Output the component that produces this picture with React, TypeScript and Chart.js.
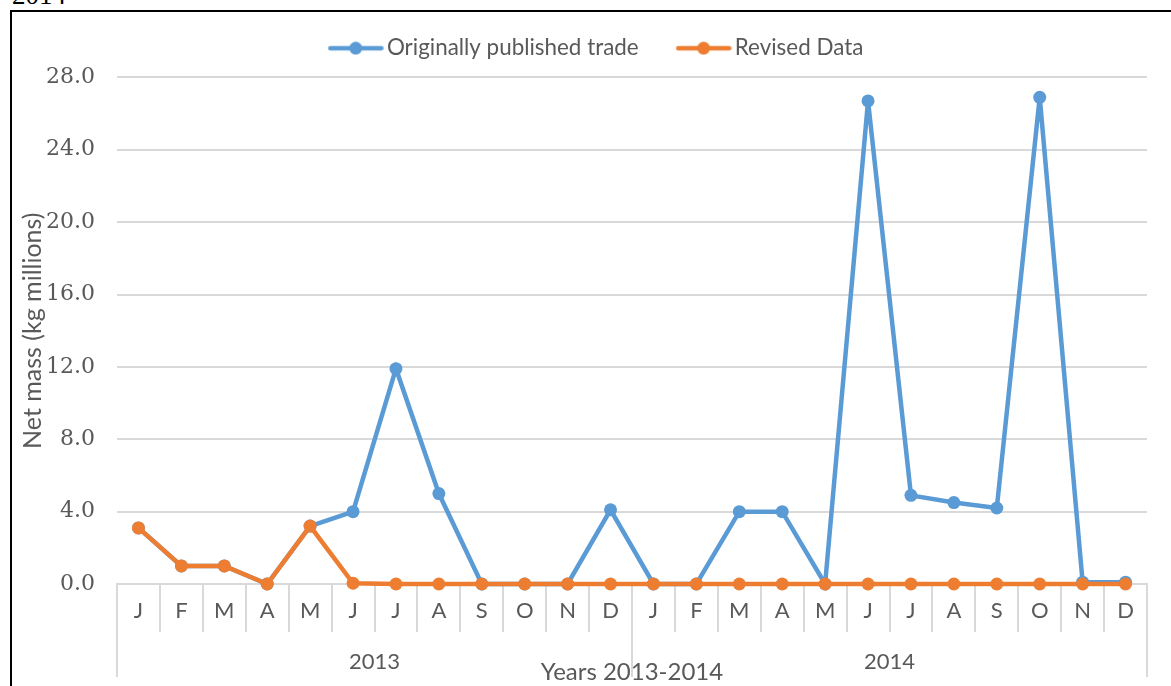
import React, { useEffect, useRef } from 'react';
import { Chart, registerables } from 'chart.js';

Chart.register(...registerables);

const MONTHS = ['J', 'F', 'M', 'A', 'M', 'J', 'J', 'A', 'S', 'O', 'N', 'D'];
const CATEGORIES = [...MONTHS, ...MONTHS];
const YEAR_LABELS = ['2013', '2014'];
const SERIES_NAMES = ['Originally published trade', 'Revised Data'];
const ORIGINAL = [3.1, 1.0, 1.0, 0.0, 3.2, 4.0, 11.9, 5.0, 0.0, 0.0, 0.0, 4.1, 0.0, 0.0, 4.0, 4.0, 0.0, 26.7, 4.9, 4.5, 4.2, 26.9, 0.1, 0.1];
const REVISED = [3.1, 1.0, 1.0, 0.0, 3.2, 0.04, 0.0, 0.0, 0.0, 0.0, 0.0, 0.0, 0.0, 0.0, 0.0, 0.0, 0.0, 0.0, 0.0, 0.0, 0.0, 0.0, 0.0, 0.0];
const Y_MIN = 0;
const Y_MAX = 28;
const Y_STEP = 4;
const X_TITLE = 'Years 2013-2014';
const Y_TITLE = 'Net mass (kg millions)';

const BLUE = '#5B9BD5';
const ORANGE = '#ED7D31';
const GRID = '#d9d9d9';
const TEXT = '#595959';
const FONT = 'Lato';
const NUM_FONT = "'DejaVu Serif', 'Liberation Serif', serif";

function makeIcon(color: string) {
  const c = document.createElement('canvas');
  c.width = 56;
  c.height = 14;
  const ctx = c.getContext('2d')!;
  ctx.strokeStyle = color;
  ctx.lineWidth = 4.5;
  ctx.lineCap = 'round';
  ctx.beginPath();
  ctx.moveTo(2.5, 7);
  ctx.lineTo(53.5, 7);
  ctx.stroke();
  ctx.fillStyle = color;
  ctx.beginPath();
  ctx.arc(28, 7, 6.5, 0, Math.PI * 2);
  ctx.fill();
  return c;
}

const legendSpacer = {
  id: 'legendSpacer',
  beforeUpdate(chart: any) {
    const lg = chart.legend;
    if (lg && !lg._spacerPatched) {
      const orig = lg.fit;
      lg.fit = function () {
        orig.call(this);
        this.height += 8;
      };
      lg._spacerPatched = true;
    }
  },
};

export default function App() {
  const ref = useRef<HTMLCanvasElement>(null);

  useEffect(() => {
    if (!ref.current) return;
    const icons = [makeIcon(BLUE), makeIcon(ORANGE)];
    const chart = new Chart(ref.current, {
      type: 'line',
      data: {
        labels: CATEGORIES,
        datasets: [
          {
            label: SERIES_NAMES[0],
            data: ORIGINAL,
            borderColor: BLUE,
            backgroundColor: BLUE,
            pointBackgroundColor: BLUE,
            pointBorderColor: BLUE,
            borderWidth: 4.5,
            pointRadius: 6.5,
            pointBorderWidth: 0,
            tension: 0,
            order: 2,
            clip: false as any,
          },
          {
            label: SERIES_NAMES[1],
            data: REVISED,
            borderColor: ORANGE,
            backgroundColor: ORANGE,
            pointBackgroundColor: ORANGE,
            pointBorderColor: ORANGE,
            borderWidth: 4.5,
            pointRadius: 6.5,
            pointBorderWidth: 0,
            tension: 0,
            order: 1,
            clip: false as any,
          },
        ],
      },
      options: {
        animation: false,
        responsive: false,
        devicePixelRatio: 1,
        layout: { padding: { left: 12, right: 13, top: -8, bottom: 0 } },
        plugins: {
          legend: {
            position: 'top',
            weight: 1000,
            labels: {
              usePointStyle: true,
              pointStyleWidth: 40,
              padding: 45,
              color: TEXT,
              font: { family: FONT, size: 22.4 },
              sort: (a: any, b: any) => a.datasetIndex - b.datasetIndex,
              generateLabels: (c: any) =>
                Chart.defaults.plugins.legend.labels
                  .generateLabels(c)
                  .map((l: any) => ({ ...l, pointStyle: icons[l.datasetIndex] })),
            },
          },
          tooltip: { enabled: false },
        },
        scales: {
          x: {
            type: 'category',
            position: 'bottom',
            weight: 0,
            offset: true,
            grid: { offset: true, drawOnChartArea: false, drawTicks: true, tickLength: 48, color: GRID, lineWidth: 2 },
            border: { display: true, color: GRID, width: 2 },
            ticks: { padding: -34, maxRotation: 0, autoSkip: false, color: TEXT, font: { family: FONT, size: 22 } },
            afterFit: (s: any) => {
              s.height = 42;
            },
          },
          x2: {
            type: 'category',
            labels: YEAR_LABELS,
            position: 'bottom',
            weight: 1,
            offset: true,
            grid: { offset: true, drawOnChartArea: false, drawTicks: true, tickLength: 51, color: GRID, lineWidth: 2 },
            border: { display: false },
            ticks: { padding: -28, maxRotation: 0, autoSkip: false, color: TEXT, font: { family: FONT, size: 22 } },
            title: { display: true, text: X_TITLE, color: TEXT, font: { family: FONT, size: 24 }, padding: { top: 0, bottom: -1 } },
            afterFit: (s: any) => {
              s.height = 60;
            },
          },
          y: {
            min: Y_MIN,
            max: Y_MAX,
            ticks: {
              stepSize: Y_STEP,
              callback: (v: any) => Number(v).toFixed(1),
              padding: 22,
              color: TEXT,
              font: { family: NUM_FONT, size: 22 },
            },
            grid: { color: GRID, lineWidth: 2, drawTicks: false },
            border: { display: false },
            title: { display: true, text: Y_TITLE, color: TEXT, font: { family: FONT, size: 25 }, padding: { top: 6, bottom: 0 } },
            afterFit: (s: any) => {
              s.width = 105;
            },
          },
          yR: {
            position: 'right',
            display: true,
            grid: { display: false },
            border: { display: false },
            ticks: { display: false },
            afterFit: (s: any) => {
              s.width = 40;
            },
          },
        },
      } as any,
      plugins: [legendSpacer],
    });
    return () => chart.destroy();
  }, []);

  return (
    <div style={{ position: 'fixed', left: 0, top: 0, width: 1171, height: 686, overflow: 'hidden', background: '#fff' }}>
      <div
        style={{
          position: 'absolute',
          left: 12,
          top: -20,
          height: 30,
          lineHeight: '30px',
          fontSize: 27,
          fontFamily: 'Liberation Serif, serif',
          color: '#000',
        }}
      >
        2014
      </div>
      <div
        style={{
          position: 'absolute',
          left: 10,
          top: 10,
          width: 1300,
          height: 800,
          border: '2px solid #000',
          boxSizing: 'border-box',
        }}
      />
      <canvas ref={ref} width={1200} height={686} style={{ position: 'absolute', left: 0, top: 0 }} />
    </div>
  );
}
